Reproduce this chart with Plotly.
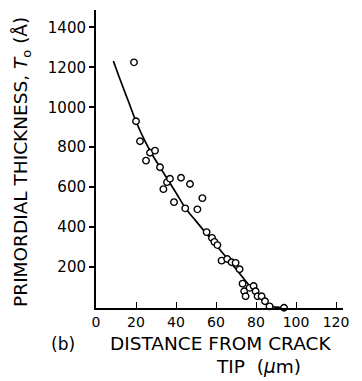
import plotly.graph_objects as go

# measured points: distance from crack tip (um), primordial thickness (A)
dist = [19, 20, 22, 25, 27, 29.5, 32, 33.7, 35.5, 37, 39, 42.5, 44.6, 47, 50.7, 53.2,
        55.3, 58, 59.2, 60.7, 62.8, 65.6, 67.8, 69.8, 71.8, 73.3, 74.1, 74.8, 76.8,
        78.8, 79.8, 80.8, 82.8, 84.5, 86.8, 94]
thick = [1225, 930, 830, 733, 772, 783, 700, 590, 625, 642, 525, 647, 494, 616, 489, 545,
         375, 346, 326, 310, 232, 240, 224, 221, 189, 117, 79, 54, 96,
         105, 79, 54, 54, 29, 3, -4]

# fitted curve
curve_x = [8.7, 12, 16, 20, 24, 28, 32, 36, 40, 44.7, 50, 55, 60, 65, 70, 75, 80, 84, 87, 90, 94]
curve_y = [1232, 1140, 1035, 930, 840, 765, 700, 636, 572, 496, 430, 370, 310, 250, 190,
           128, 70, 25, 6, -1, -4]

x_ticks = [0, 20, 40, 60, 80, 100, 120]
y_ticks = [200, 400, 600, 800, 1000, 1200, 1400]

FONT = "DejaVu Sans"

fig = go.Figure()
fig.add_trace(go.Scatter(x=curve_x, y=curve_y, mode="lines",
                         line=dict(color="black", width=1.7, shape="spline"),
                         cliponaxis=False, hoverinfo="skip"))
fig.add_trace(go.Scatter(x=dist, y=thick, mode="markers",
                         marker=dict(symbol="circle", size=6.5, color="white",
                                     line=dict(color="black", width=1.4)),
                         cliponaxis=False))

fig.update_layout(
    width=362, height=381,
    margin=dict(l=96, r=19, t=10, b=72.5),
    plot_bgcolor="white", paper_bgcolor="white",
    showlegend=False,
    font=dict(family=FONT, color="black"),
    xaxis=dict(range=[0, 123.5], tickvals=x_ticks, ticktext=[str(v) for v in x_ticks],
               showgrid=False, zeroline=False, showline=True, linecolor="black", linewidth=1.6,
               ticks="inside", ticklen=6, tickwidth=1.4, tickcolor="black",
               tickfont=dict(size=14, family=FONT)),
    yaxis=dict(range=[-5, 1487], tickvals=y_ticks, ticktext=[str(v) for v in y_ticks],
               showgrid=False, zeroline=False, showline=True, linecolor="black", linewidth=2,
               ticks="outside", ticklen=5, tickwidth=1.6, tickcolor="black",
               tickfont=dict(size=15, family=FONT)),
)

fig.add_annotation(text="PRIMORDIAL THICKNESS, <i>T</i><sub>o</sub> (Å)", textangle=-90,
                   xref="paper", yref="paper", x=-0.30, y=0.49, xanchor="center", yanchor="middle",
                   showarrow=False, font=dict(size=18.5, family=FONT))
fig.add_annotation(text="(b)", xref="paper", yref="paper", x=(63 - 96) / 247, y=-(345 - 308.5) / 298.5,
                   xanchor="center", yanchor="middle", showarrow=False, font=dict(size=17, family=FONT))
fig.add_annotation(text="DISTANCE FROM CRACK", xref="paper", yref="paper",
                   x=(220 - 96) / 247, y=-(344.5 - 308.5) / 298.5,
                   xanchor="center", yanchor="middle", showarrow=False, font=dict(size=18.5, family=FONT))
fig.add_annotation(text="TIP  (<i>μ</i>m)", xref="paper", yref="paper",
                   x=(258 - 96) / 247, y=-(367 - 308.5) / 298.5,
                   xanchor="center", yanchor="middle", showarrow=False, font=dict(size=18.5, family=FONT))

fig.write_html("out.html")
